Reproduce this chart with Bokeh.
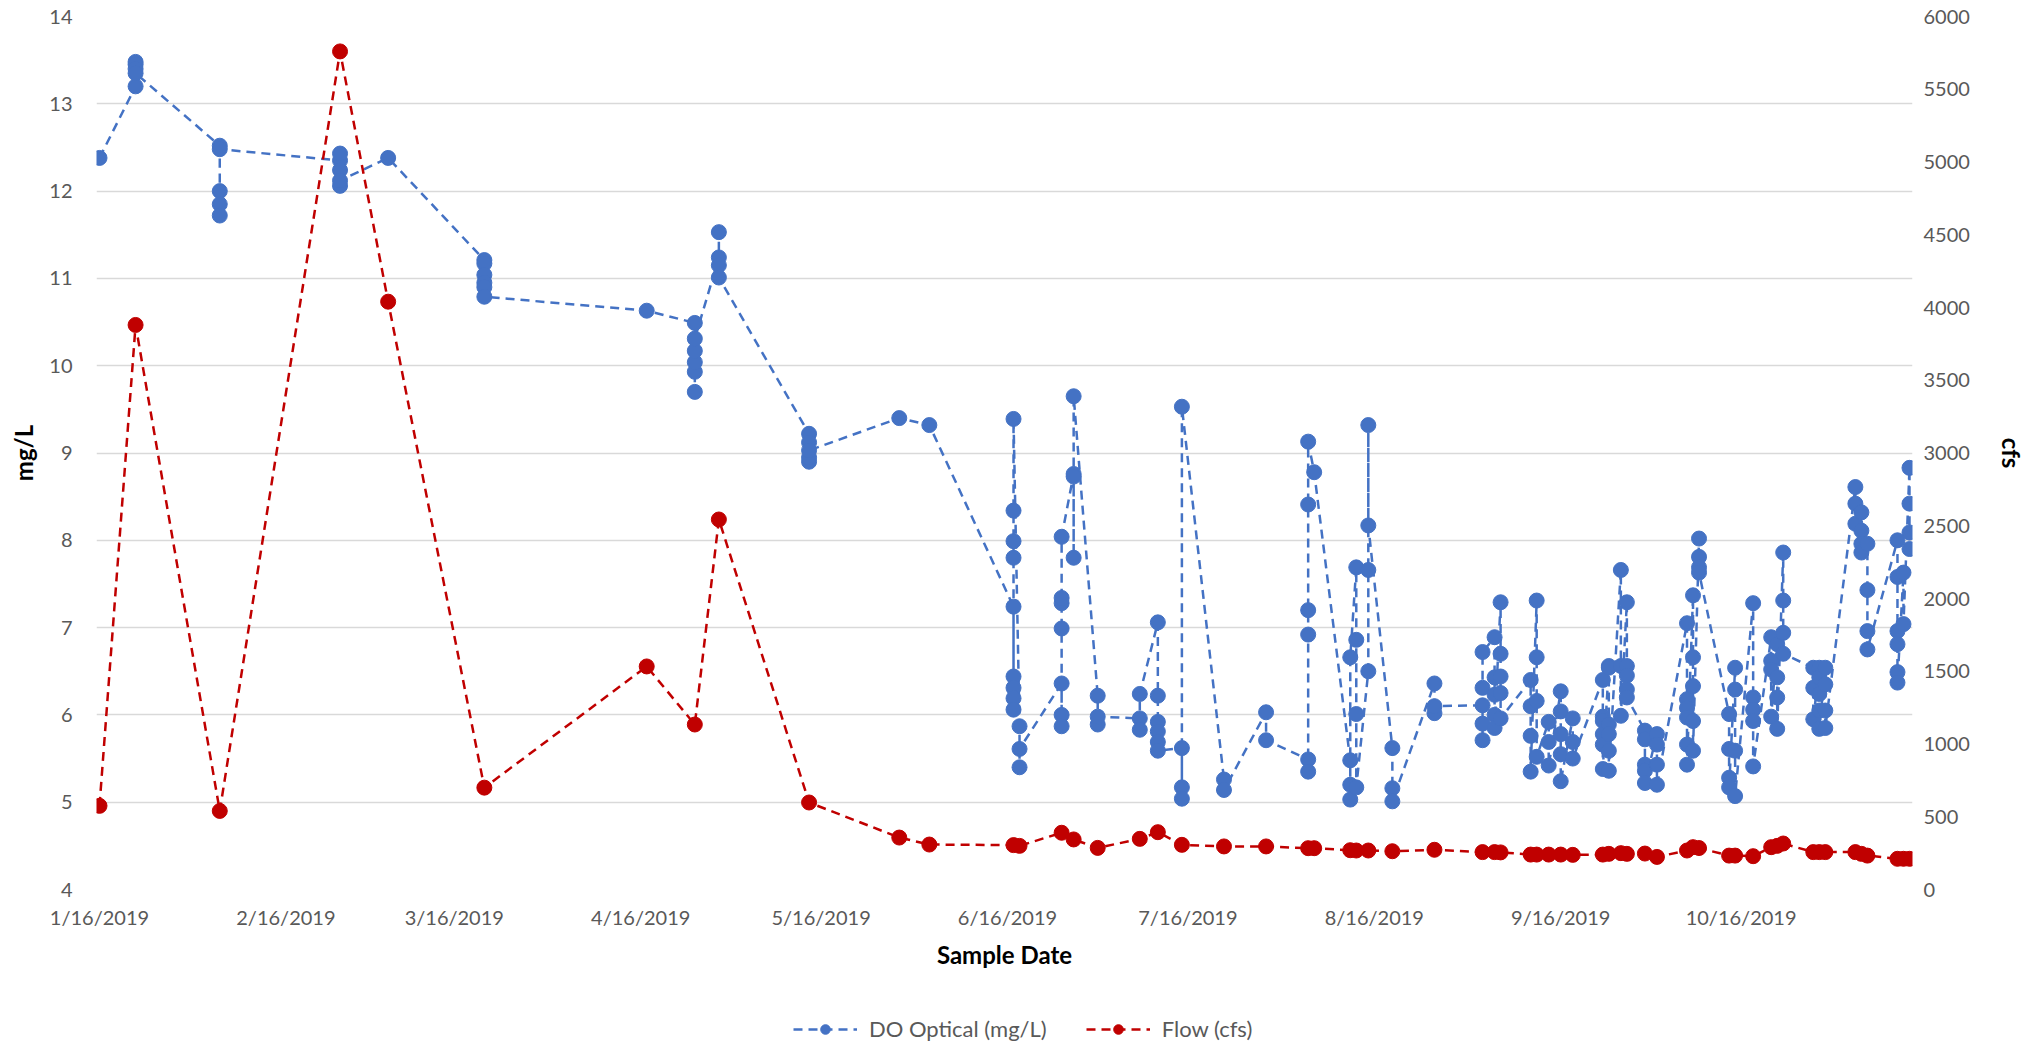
import pandas as pd
from bokeh.plotting import figure
from bokeh.layouts import column
from bokeh.models import (Range1d, LinearAxis, FixedTicker, CustomJSTickFormatter,
                          Legend, LegendItem, ColumnDataSource)
from bokeh.embed import file_html
from bokeh.resources import INLINE

# ---------------- data ----------------
do_sample_dates = [
    "2019-01-16", "2019-01-22", "2019-02-05", "2019-02-25", "2019-03-05", "2019-03-21",
    "2019-04-17", "2019-04-25", "2019-04-29", "2019-05-14", "2019-05-29", "2019-06-03",
    "2019-06-17", "2019-06-18", "2019-06-25", "2019-06-27", "2019-07-01", "2019-07-08",
    "2019-07-11", "2019-07-15", "2019-07-22", "2019-07-29", "2019-08-05", "2019-08-06",
    "2019-08-12", "2019-08-13", "2019-08-15", "2019-08-19", "2019-08-26", "2019-09-03",
    "2019-09-05", "2019-09-06", "2019-09-11", "2019-09-12", "2019-09-14", "2019-09-16",
    "2019-09-18", "2019-09-23", "2019-09-24", "2019-09-26", "2019-09-27", "2019-09-30",
    "2019-10-02", "2019-10-07", "2019-10-08", "2019-10-09", "2019-10-14", "2019-10-15",
    "2019-10-18", "2019-10-21", "2019-10-22", "2019-10-23", "2019-10-28", "2019-10-29",
    "2019-10-30", "2019-11-04", "2019-11-05", "2019-11-06", "2019-11-11", "2019-11-12",
    "2019-11-13",
]
do_sample_values = [
    [12.38], [13.2, 13.48, 13.45, 13.4, 13.35], [12.52, 12.0, 11.85, 11.72, 12.48],
    [12.35, 12.43, 12.24, 12.06, 12.12], [12.38], [11.21, 11.17, 11.04, 10.95, 10.9, 10.79],
    [10.63], [10.49, 9.70, 9.93, 10.04, 10.17, 10.31], [11.24, 11.53, 11.15, 11.01],
    [9.22, 9.12, 8.9, 8.95, 9.03], [9.40], [9.32],
    [7.24, 6.44, 6.31, 6.19, 6.06, 7.80, 7.99, 8.34, 9.39], [5.87, 5.40, 5.61],
    [6.36, 6.0, 5.87, 6.99, 7.28, 7.34, 8.04], [8.76, 7.80, 8.73, 9.65], [6.22, 5.89, 5.98],
    [5.96, 5.83, 6.24], [7.06, 6.22, 5.92, 5.81, 5.69, 5.59], [5.62, 5.17, 5.04, 9.53],
    [5.26, 5.14], [6.03, 5.71], [5.49, 5.35, 6.92, 7.20, 8.41, 9.13], [8.78],
    [5.48, 5.20, 5.03, 6.66], [7.69, 6.86, 6.01, 5.17], [6.50, 7.66, 9.32, 8.17],
    [5.62, 5.16, 5.01], [6.36, 6.02, 6.10], [6.11, 5.71, 5.90, 6.31, 6.72],
    [6.89, 6.43, 6.23, 6.00, 5.85], [7.29, 6.70, 6.44, 6.25, 5.96], [6.40, 6.10, 5.76, 5.35],
    [7.31, 6.66, 6.16, 5.52], [5.92, 5.69, 5.42], [6.27, 6.04, 5.78, 5.55, 5.24],
    [5.96, 5.69, 5.50], [6.40, 5.98, 5.93, 5.78, 5.66, 5.38], [6.56, 6.54, 5.89, 5.78, 5.59, 5.36],
    [7.66, 6.56, 5.99], [7.29, 6.56, 6.45, 6.29, 6.20], [5.82, 5.72, 5.43, 5.36, 5.22],
    [5.78, 5.66, 5.43, 5.20], [7.05, 6.18, 6.08, 5.97, 5.66, 5.43], [7.37, 6.66, 6.33, 5.93, 5.59],
    [8.02, 7.81, 7.69, 7.63], [6.01, 5.61, 5.28, 5.17], [6.54, 6.29, 5.59, 5.07],
    [7.28, 6.20, 6.06, 5.93, 5.41], [6.89, 6.62, 6.52, 5.98], [6.81, 6.43, 6.20, 5.84],
    [7.86, 7.31, 6.94, 6.70], [6.54, 6.31, 5.95], [6.54, 6.43, 6.24, 6.05, 5.84],
    [6.54, 6.35, 6.05, 5.85], [8.61, 8.42, 8.19], [8.32, 8.11, 7.96, 7.86],
    [7.96, 7.43, 6.96, 6.75], [8.00, 7.58, 6.96, 6.81, 6.49, 6.37], [7.63, 7.04],
    [8.83, 8.42, 8.09, 7.90],
]
flow_values = [
    575, 3880, 540, 5760, 4040, 700, 1533, 1134, 2543, 598, 357, 309,
    305, 300, 390, 344, 286, 348, 394, 307, 296, 296, 284, 284,
    270, 268, 268, 263, 273, 257, 257, 255, 240, 240, 240, 240,
    238, 240, 245, 250, 245, 247, 224, 268, 291, 285, 233, 233,
    229, 291, 300, 316, 257, 257, 257, 257, 245, 233, 211, 211, 211,
]
x_tick_dates = ["2019-01-16", "2019-02-16", "2019-03-16", "2019-04-16", "2019-05-16",
                "2019-06-16", "2019-07-16", "2019-08-16", "2019-09-16", "2019-10-16"]
left_ticks = list(range(4, 15))
right_ticks = list(range(0, 6001, 500))
series_names = ["DO Optical (mg/L)", "Flow (cfs)"]

# ---------------- build sources ----------------
do_x, do_y = [], []
for d, vals in zip(do_sample_dates, do_sample_values):
    for v in vals:
        do_x.append(pd.Timestamp(d))
        do_y.append(v)
do_src = ColumnDataSource(dict(x=do_x, y=do_y))
flow_src = ColumnDataSource(dict(x=[pd.Timestamp(d) for d in do_sample_dates], y=flow_values))

FONT = "Lato"
GREY = "#595959"
BLUE = "#4472C4"
RED = "#C00000"
DASH = "9 6"

p = figure(width=2028, height=1013, frame_width=1816, frame_height=873,
           x_axis_type="datetime",
           x_range=Range1d(pd.Timestamp("2019-01-15 12:00"), pd.Timestamp("2019-11-13 12:00")),
           y_range=Range1d(4, 14), output_backend="svg", toolbar_location=None,
           min_border_left=96, min_border_right=116, min_border_top=16, min_border_bottom=124)
p.outline_line_color = None
p.background_fill_color = "white"
p.border_fill_color = "white"
p.extra_y_ranges = {"flow": Range1d(0, 6000)}

# grid
p.xgrid.visible = False
p.ygrid.grid_line_color = "#D9D9D9"
p.ygrid.grid_line_width = 1.5
p.ygrid.ticker = FixedTicker(ticks=left_ticks)

# x axis
xa = p.xaxis[0]
xa.ticker = FixedTicker(ticks=[pd.Timestamp(d).value // 10**6 for d in x_tick_dates])
xa.formatter = CustomJSTickFormatter(code="""
const d = new Date(tick);
return (d.getUTCMonth()+1) + '/' + d.getUTCDate() + '/' + d.getUTCFullYear();
""")
xa.axis_label = "Sample Date"

# left axis
ya = p.yaxis[0]
ya.ticker = FixedTicker(ticks=left_ticks)
ya.axis_label = "mg/L"

# right axis
ra = LinearAxis(y_range_name="flow", ticker=FixedTicker(ticks=right_ticks), axis_label="cfs")
p.add_layout(ra, "right")

for ax in [xa, ya, ra]:
    ax.axis_line_color = None
    ax.major_tick_line_color = None
    ax.minor_tick_line_color = None
    ax.major_tick_out = 0
    ax.major_tick_in = 0
    ax.minor_tick_out = 0
    ax.major_label_text_font = FONT
    ax.major_label_text_font_size = "20px"
    ax.major_label_text_color = GREY
    ax.axis_label_text_font = FONT
    ax.axis_label_text_font_size = "24px"
    ax.axis_label_text_font_style = "bold"
    ax.axis_label_text_color = "black"

xa.major_label_standoff = 15
xa.axis_label_standoff = 8
ya.major_label_standoff = 24
ya.axis_label_standoff = 8
ra.major_label_standoff = 11
ra.axis_label_standoff = 24

# series
do_line = p.line("x", "y", source=do_src, line_color=BLUE, line_width=2.5, line_dash=DASH)
do_pts = p.scatter("x", "y", source=do_src, size=15, fill_color=BLUE, line_color=BLUE)
fl_line = p.line("x", "y", source=flow_src, y_range_name="flow", line_color=RED,
                 line_width=2.5, line_dash=DASH)
fl_pts = p.scatter("x", "y", source=flow_src, y_range_name="flow", size=15,
                   fill_color=RED, line_color=RED)

# ---------------- legend strip below the chart ----------------
q = figure(width=2028, height=30, x_range=Range1d(0, 1), y_range=Range1d(0, 1),
           x_axis_location=None, y_axis_location=None,
           output_backend="svg", toolbar_location=None,
           min_border_left=0, min_border_right=0, min_border_top=0, min_border_bottom=0)
q.grid.visible = False
q.outline_line_color = None
# legend proxies (no visible data)
proxy = ColumnDataSource(dict(x=[float("nan")], y=[float("nan")]))
lg_do_line = q.line("x", "y", source=proxy, line_color=BLUE, line_width=2.5, line_dash=DASH)
lg_do_pts = q.scatter("x", "y", source=proxy, size=15, fill_color=BLUE, line_color=BLUE)
lg_fl_line = q.line("x", "y", source=proxy, line_color=RED, line_width=2.5, line_dash=DASH)
lg_fl_pts = q.scatter("x", "y", source=proxy, size=15, fill_color=RED, line_color=RED)

legend = Legend(items=[LegendItem(label=series_names[0], renderers=[lg_do_line, lg_do_pts]),
                       LegendItem(label=series_names[1], renderers=[lg_fl_line, lg_fl_pts])],
                orientation="horizontal", location=(697, 1),
                label_text_font=FONT, label_text_font_size="22px", label_text_color=GREY,
                glyph_width=64, glyph_height=24, label_standoff=12, spacing=39,
                padding=2, margin=0, border_line_color=None, background_fill_alpha=0)
q.add_layout(legend, "center")

open("out.html", "w").write(file_html(column(p, q, spacing=0), INLINE))
